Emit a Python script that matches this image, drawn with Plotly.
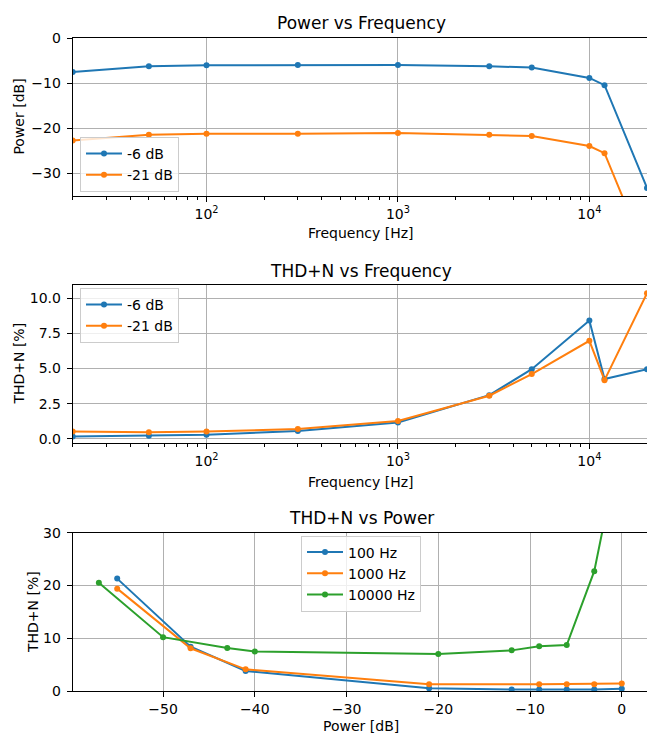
import plotly.graph_objects as go

# ---------------- data ----------------
freq = [20, 50, 100, 300, 1000, 3000, 5000, 10000, 12000, 20000]
power_m6 = [-7.5, -6.2, -6.0, -5.9, -5.9, -6.2, -6.5, -8.8, -10.4, -33.2]
power_m21 = [-22.7, -21.4, -21.2, -21.2, -21.0, -21.4, -21.7, -23.9, -25.5, -48.3]
thd_m6 = [0.17, 0.21, 0.28, 0.55, 1.16, 3.1, 4.95, 8.41, 4.25, 4.95]
thd_m21 = [0.52, 0.47, 0.52, 0.69, 1.26, 3.06, 4.6, 6.97, 4.17, 10.36]

pow_100 = [-55, -47, -41, -21, -12, -9, -6, -3, 0]
thd_100 = [21.3, 8.4, 3.8, 0.5, 0.3, 0.3, 0.3, 0.3, 0.45]
pow_1000 = [-55, -47, -41, -21, -9, -6, -3, 0]
thd_1000 = [19.4, 8.1, 4.1, 1.26, 1.26, 1.26, 1.26, 1.4]
pow_10000 = [-57, -50, -43, -40, -20, -12, -9, -6, -3, 0]
thd_10000 = [20.5, 10.2, 8.15, 7.5, 7.0, 7.7, 8.5, 8.7, 22.7, 48.4]

log_tickvals = [100, 1000, 10000]
log_ticktext = ["10<sup>2</sup>", "10<sup>3</sup>", "10<sup>4</sup>"]
minor_vals = [20, 30, 40, 50, 60, 70, 80, 90, 200, 300, 400, 500, 600, 700, 800, 900,
              2000, 3000, 4000, 5000, 6000, 7000, 8000, 9000, 20000]

BLUE, ORANGE, GREEN = "#1f77b4", "#ff7f0e", "#2ca02c"
FONT = "DejaVu Sans"
W, H = 647, 734

fig = go.Figure()


def add(x, y, name, color, xa, ya, legend):
    fig.add_trace(go.Scatter(
        x=x, y=y, name=name, mode="lines+markers",
        line=dict(color=color, width=2),
        marker=dict(color=color, size=6),
        xaxis=xa, yaxis=ya, legend=legend,
    ))


add(freq, power_m6, "-6 dB", BLUE, "x", "y", "legend")
add(freq, power_m21, "-21 dB", ORANGE, "x", "y", "legend")
add(freq, thd_m6, "-6 dB", BLUE, "x2", "y2", "legend2")
add(freq, thd_m21, "-21 dB", ORANGE, "x2", "y2", "legend2")
add(pow_100, thd_100, "100 Hz", BLUE, "x3", "y3", "legend3")
add(pow_1000, thd_1000, "1000 Hz", ORANGE, "x3", "y3", "legend3")
add(pow_10000, thd_10000, "10000 Hz", GREEN, "x3", "y3", "legend3")


def px(p):
    return p / W


def py(p):
    return 1 - p / H


xdom = [px(72.7), 1.0]
common = dict(showline=True, linecolor="black", linewidth=1, mirror=True,
              ticks="outside", ticklen=5, tickwidth=1, tickcolor="black",
              showgrid=True, gridcolor="#b0b0b0", gridwidth=0.8, zeroline=False,
              tickfont=dict(family=FONT, size=14, color="black"), automargin=False)
ycommon = dict(common, ticklabelstandoff=3)

logax = dict(common, type="log", range=[1.30103, 4.30103], domain=xdom,
             tickmode="array", tickvals=log_tickvals, ticktext=log_ticktext,
             minor=dict(ticks="outside", ticklen=3, tickcolor="black",
                        tickmode="array", tickvals=minor_vals, showgrid=False))

legstyle = dict(bgcolor="rgba(255,255,255,0.8)", bordercolor="#cccccc", borderwidth=1,
                font=dict(family=FONT, size=14), itemwidth=36)

fig.update_layout(
    width=W, height=H,
    margin=dict(l=0, r=0, t=0, b=0),
    paper_bgcolor="white", plot_bgcolor="white",
    font=dict(family=FONT, size=14, color="black"),
    xaxis=dict(logax, anchor="y"),
    yaxis=dict(ycommon, domain=[py(196), py(38.3)], range=[-35, 0],
               tickvals=[0, -10, -20, -30], anchor="x"),
    xaxis2=dict(logax, anchor="y2"),
    yaxis2=dict(ycommon, domain=[py(442.7), py(285)], range=[-0.28, 10.94],
                tickvals=[0, 2.5, 5, 7.5, 10], tickformat=".1f", anchor="x2"),
    xaxis3=dict(common, domain=xdom, range=[-59.85, 2.75],
                tickvals=[-50, -40, -30, -20, -10, 0], anchor="y3"),
    yaxis3=dict(ycommon, domain=[py(691), py(532.7)], range=[0, 30],
                tickvals=[0, 10, 20, 30], anchor="x3"),
    legend=dict(legstyle, x=px(80), y=py(192), xanchor="left", yanchor="bottom"),
    legend2=dict(legstyle, x=px(80), y=py(288), xanchor="left", yanchor="top"),
    legend3=dict(legstyle, x=px(361), y=py(535.5), xanchor="center", yanchor="top"),
    showlegend=True,
)

annos = [
    ("Power vs Frequency", 361, 23, 17, 0),
    ("Frequency [Hz]", 361, 233, 14, 0),
    ("Power [dB]", 18.6, 117, 14, -90),
    ("THD+N vs Frequency", 361, 270.7, 17, 0),
    ("Frequency [Hz]", 361, 481.7, 14, 0),
    ("THD+N [%]", 18.6, 364, 14, -90),
    ("THD+N vs Power", 361, 518, 17, 0),
    ("Power [dB]", 361, 726, 14, 0),
    ("THD+N [%]", 33, 612, 14, -90),
]
for text, x, y, size, ang in annos:
    fig.add_annotation(text=text, x=px(x), y=py(y), xref="paper", yref="paper",
                       xanchor="center", yanchor="middle", showarrow=False,
                       textangle=ang, font=dict(family=FONT, size=size, color="black"))

# remove the default 8px page margin so the figure fills the window exactly
fig.write_html("out.html",
               config={"displayModeBar": False},
               post_script="document.body.style.margin='0';document.body.style.overflow='hidden';")
